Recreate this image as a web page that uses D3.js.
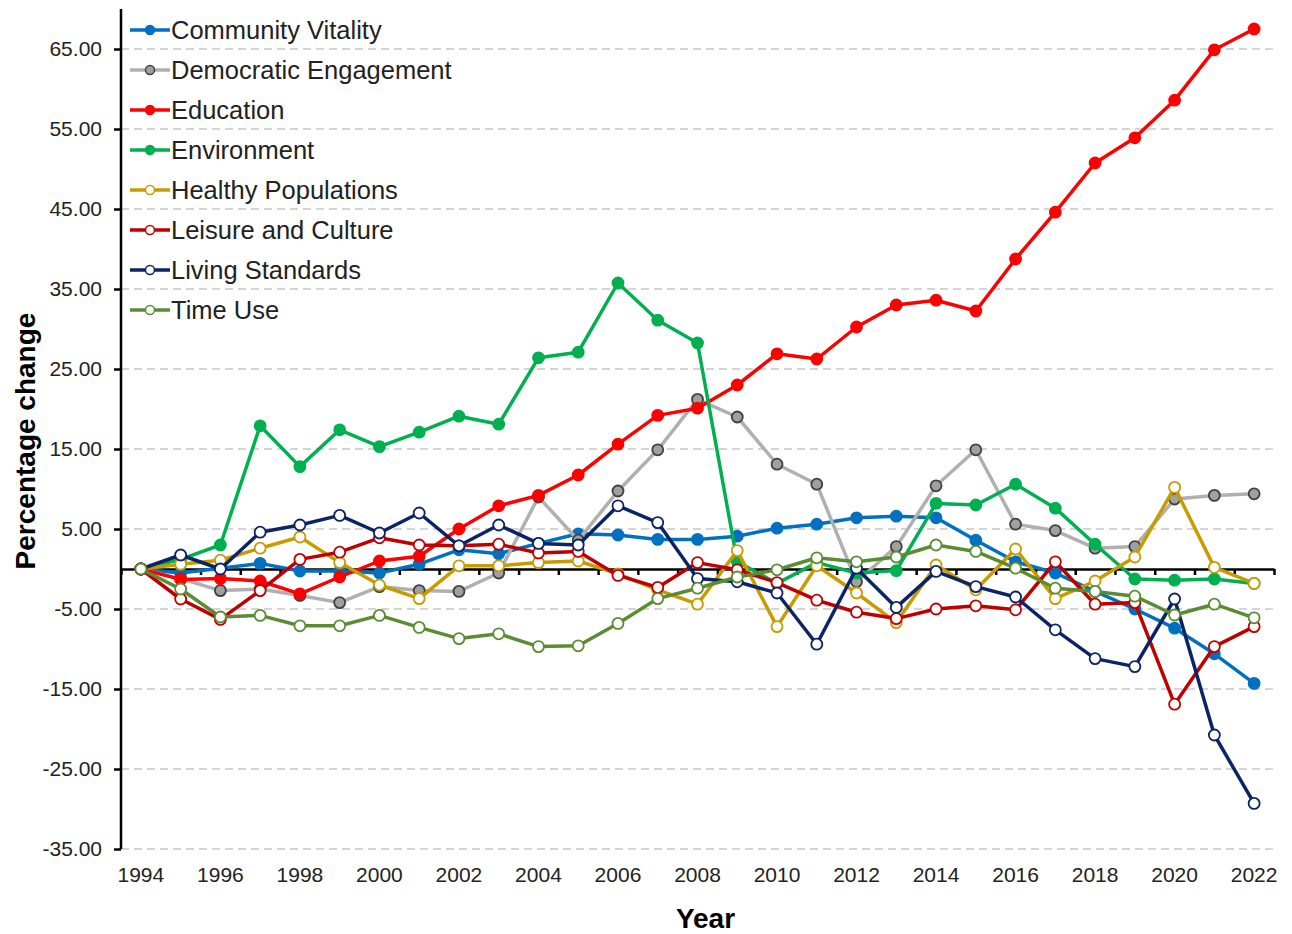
<!DOCTYPE html>
<html>
<head>
  <meta charset="utf-8">
  <title>Percentage change by domain</title>
  <script src="https://d3js.org/d3.v7.min.js"></script>
  <style>
    body { margin: 0; background: #fff; font-family: "Liberation Sans", Arial, sans-serif; }
    .grid line { stroke: #c8c8c8; stroke-width: 1.3; stroke-dasharray: 8,5; }
    .axis path, .axis line { stroke: #000; stroke-width: 2.5; }
    .axis text { font-size: 21px; fill: #222; font-family: "Liberation Sans", Arial, sans-serif; }
    .axis-title { font-size: 28px; font-weight: bold; fill: #000; }
    .legend text { font-size: 25.5px; fill: #222; }
  </style>
</head>
<body>
  <div id="chart"></div>
  <script>
    const years = d3.range(1994, 2023);

    const yTicks = [65, 55, 45, 35, 25, 15, 5, -5, -15, -25, -35];

    const seriesNames = ["Community Vitality", "Democratic Engagement", "Education", "Environment",
      "Healthy Populations", "Leisure and Culture", "Living Standards", "Time Use"];

    const communityVitality = [0, -0.5, 0.1, 0.7, -0.25, -0.25, -0.5, 0.6, 2.4, 1.9, 3.2, 4.4, 4.25, 3.7, 3.7,
      4.1, 5.1, 5.6, 6.4, 6.6, 6.4, 3.6, 0.9, -0.5, -2.8, -5.0, -7.4, -10.6, -14.3];
    const democraticEngagement = [0, -1.2, -2.7, -2.5, -3.3, -4.2, -2.2, -2.7, -2.8, -0.5, 9.0, 3.6, 9.75, 14.9, 21.2,
      19.0, 13.1, 10.6, -1.6, 2.8, 10.4, 14.9, 5.6, 4.8, 2.6, 2.8, 8.75, 9.2, 9.4];
    const education = [0, -1.3, -1.2, -1.5, -3.1, -1.0, 1.0, 1.6, 5.0, 7.9, 9.2, 11.75, 15.6, 19.2, 20.1,
      23.0, 26.9, 26.25, 30.25, 33.0, 33.6, 32.25, 38.75, 44.6, 50.75, 53.9, 58.6, 64.9, 67.5];
    const environment = [0, 1.2, 3.0, 17.9, 12.8, 17.4, 15.3, 17.1, 19.1, 18.1, 26.4, 27.1, 35.75, 31.1, 28.25,
      0.9, -1.8, 0.8, -0.5, -0.2, 8.2, 8.0, 10.6, 7.6, 3.1, -1.25, -1.4, -1.25, -1.8];
    const healthyPopulations = [0, 0.6, 1.1, 2.6, 4.0, 0.8, -2.0, -3.7, 0.4, 0.4, 0.8, 1.0, -0.6, -2.6, -4.4,
      2.3, -7.2, 0.4, -3.0, -6.7, 0.5, -2.6, 2.5, -3.7, -1.5, 1.5, 10.2, 0.2, -1.8];
    const leisureCulture = [0, -3.75, -6.3, -2.7, 1.2, 2.1, 3.9, 3.0, 2.9, 3.1, 2.0, 2.2, -0.8, -2.3, 0.8,
      -0.1, -1.7, -3.9, -5.4, -6.2, -5.0, -4.6, -5.1, 0.9, -4.4, -4.2, -16.9, -9.7, -7.2];
    const livingStandards = [0, 1.75, 0, 4.6, 5.5, 6.7, 4.5, 7.0, 2.9, 5.5, 3.2, 3.0, 7.9, 5.8, -1.2,
      -1.6, -3.0, -9.4, 0.1, -4.8, -0.3, -2.2, -3.5, -7.6, -11.2, -12.2, -3.75, -20.75, -29.3];
    const timeUse = [0, -2.5, -6.0, -5.8, -7.1, -7.1, -5.8, -7.3, -8.7, -8.1, -9.7, -9.6, -6.8, -3.7, -2.4,
      -1.0, -0.1, 1.4, 0.9, 1.5, 3.0, 2.2, 0.1, -2.4, -2.8, -3.4, -5.75, -4.4, -6.1];

    const seriesValues = [communityVitality, democraticEngagement, education, environment,
      healthyPopulations, leisureCulture, livingStandards, timeUse];

    // line colour, marker fill, marker stroke
    const styles = [
      {line: "#0070c0", fill: "#0070c0", stroke: "#0070c0"},
      {line: "#b0b0b0", fill: "#a0a0a0", stroke: "#404040"},
      {line: "#ff0000", fill: "#ff0000", stroke: "#ff0000"},
      {line: "#00b050", fill: "#00b050", stroke: "#00b050"},
      {line: "#c89b00", fill: "#ffffff", stroke: "#c89b00"},
      {line: "#c00000", fill: "#ffffff", stroke: "#c00000"},
      {line: "#0a2466", fill: "#ffffff", stroke: "#0a2466"},
      {line: "#5b8c32", fill: "#ffffff", stroke: "#5b8c32"}
    ];

    const series = seriesNames.map((name, i) => ({
      name, style: styles[i],
      values: years.map((yr, j) => ({year: yr, value: seriesValues[i][j]}))
    }));

    const W = 1292, H = 934;
    const plot = {left: 121, right: 1274, top: 9, bottom: 849};

    const svg = d3.select("#chart").append("svg")
      .attr("width", W).attr("height", H);

    const x = d3.scaleBand().domain(years).range([plot.left, plot.right]).padding(0);
    const xc = d => x(d) + x.bandwidth() / 2;
    const xEdge = d3.scaleLinear().domain([0, years.length]).range([plot.left, plot.right]);
    const y = d3.scaleLinear().domain([-35, 70]).range([plot.bottom, plot.top]);

    // plain hyphen for negatives, like the original
    const fmt = d => d3.format(".2f")(d).replace("\u2212", "-");

    // gridlines
    svg.append("g").attr("class", "grid")
      .selectAll("line").data(yTicks).join("line")
        .attr("x1", plot.left).attr("x2", plot.right)
        .attr("y1", d => y(d)).attr("y2", d => y(d));

    // y axis
    const yAxisG = svg.append("g").attr("class", "axis")
      .attr("transform", `translate(${plot.left},0)`)
      .call(d3.axisLeft(y).tickValues(yTicks).tickFormat(fmt).tickSize(7).tickPadding(12));
    yAxisG.select(".domain").attr("d", `M0,${y(70)}V${y(-35)}`);
    yAxisG.selectAll(".tick line").attr("stroke-width", 2);

    // x axis line at zero with ticks on category boundaries
    const xAxisG = svg.append("g").attr("class", "axis")
      .attr("transform", `translate(0,${y(0)})`)
      .call(d3.axisBottom(xEdge).tickValues(d3.range(years.length + 1)).tickFormat("").tickSize(6).tickSizeOuter(0));
    xAxisG.selectAll(".tick line").attr("stroke-width", 2);

    // year labels at the bottom
    svg.append("g").attr("class", "axis")
      .selectAll("text").data(years.filter(d => (d - 1994) % 2 === 0)).join("text")
        .attr("x", d => xc(d))
        .attr("y", plot.bottom + 33)
        .attr("text-anchor", "middle")
        .text(d => d);

    // axis titles
    svg.append("text").attr("class", "axis-title")
      .attr("transform", `translate(35,${(plot.top + plot.bottom) / 2 + 12}) rotate(-90)`)
      .attr("text-anchor", "middle")
      .text("Percentage change");
    svg.append("text").attr("class", "axis-title")
      .attr("x", (plot.left + plot.right) / 2 + 8)
      .attr("y", 928)
      .attr("text-anchor", "middle")
      .text("Year");

    // lines and markers, drawn series by series
    const line = d3.line().x(d => xc(d.year)).y(d => y(d.value));
    series.forEach(s => {
      const g = svg.append("g");
      g.append("path")
        .datum(s.values)
        .attr("fill", "none")
        .attr("stroke", s.style.line)
        .attr("stroke-width", 3.5)
        .attr("stroke-linejoin", "round")
        .attr("d", line);
      g.selectAll("circle").data(s.values).join("circle")
        .attr("cx", d => xc(d.year))
        .attr("cy", d => y(d.value))
        .attr("r", 5.5)
        .attr("fill", s.style.fill)
        .attr("stroke", s.style.stroke)
        .attr("stroke-width", 1.8);
    });

    // legend
    const legend = svg.append("g").attr("class", "legend")
      .attr("transform", "translate(130,30)");
    const rows = legend.selectAll("g").data(series).join("g")
      .attr("transform", (d, i) => `translate(0,${i * 40})`);
    rows.append("line")
      .attr("x1", 0).attr("x2", 40)
      .attr("stroke", d => d.style.line).attr("stroke-width", 3.5);
    rows.append("circle")
      .attr("cx", 20).attr("r", 4.5)
      .attr("fill", d => d.style.fill)
      .attr("stroke", d => d.style.stroke).attr("stroke-width", 1.5);
    rows.append("text")
      .attr("x", 41).attr("dy", "0.35em")
      .text(d => d.name);
  </script>
</body>
</html>
